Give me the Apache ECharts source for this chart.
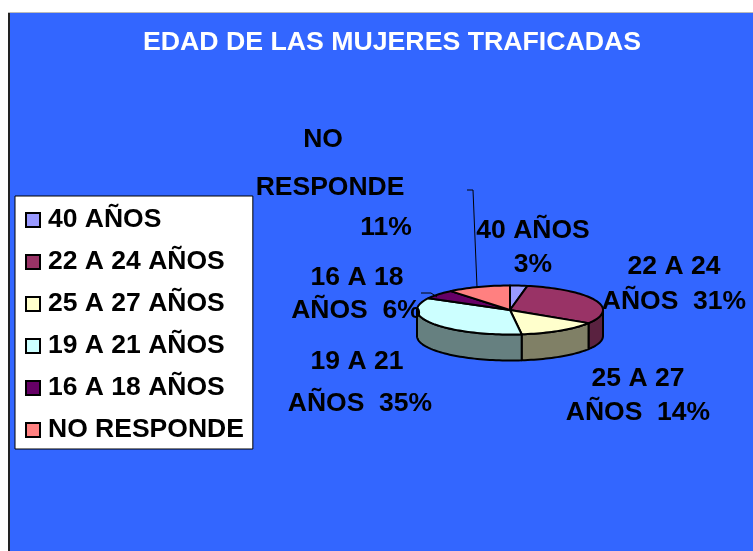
<!DOCTYPE html>
<html>
<head>
<meta charset="utf-8">
<style>html,body{margin:0;padding:0;background:#fff}#c{width:753px;height:551px}</style>
<script src="https://cdn.jsdelivr.net/npm/echarts@6/dist/echarts.min.js"></script>
</head>
<body>
<div id="c"></div>
<script>
var titleText = 'EDAD DE LAS MUJERES TRAFICADAS';
var categories = ['40 AÑOS', '22 A 24 AÑOS', '25 A 27 AÑOS', '19 A 21 AÑOS', '16 A 18 AÑOS', 'NO RESPONDE'];
var shares = [3, 31, 14, 35, 6, 11];
var topColors = ['#9999FF', '#993366', '#FFFFCC', '#CCFFFF', '#660066', '#FF8080'];
var wallColors = ['#4D4D80', '#5A2240', '#808066', '#668080', '#330033', '#804040'];
var labelLines = [
  ['NO', 'RESPONDE', '11%'],
  ['40 AÑOS', '3%'],
  ['22 A 24', 'AÑOS  31%'],
  ['25 A 27', 'AÑOS  14%'],
  ['19 A 21', 'AÑOS  35%'],
  ['16 A 18', 'AÑOS  6%']
];

var FONT = '"Liberation Sans", Arial, sans-serif';
var FS = 26.5;
var CX = 510, CY = 310, RX = 93, RY = 24.5, DEPTH = 26;
var labelPos = [
  [[323, 140], [330, 188], [386, 228]],
  [[533, 231], [533, 265]],
  [[674, 267], [674, 302]],
  [[638, 379], [638, 413]],
  [[357, 362], [360, 404]],
  [[357, 278], [356, 311]]
];

var total = shares.reduce(function (a, b) { return a + b; }, 0);
var starts = [];
shares.reduce(function (acc, v, i) { starts[i] = acc; return acc + v; }, 0);

function pt(deg, dy) {
  var r = deg * Math.PI / 180;
  return [CX + RX * Math.sin(r), CY - RY * Math.cos(r) + (dy || 0)];
}
function arc(a0, a1, dy) {
  var pts = [], n = Math.max(2, Math.ceil((a1 - a0) / 2));
  for (var i = 0; i <= n; i++) pts.push(pt(a0 + (a1 - a0) * i / n, dy));
  return pts;
}
function renderTop(params, api) {
  var a0 = api.value(0) / total * 360, a1 = a0 + api.value(1) / total * 360;
  return {
    type: 'polygon', z2: 10,
    shape: { points: [[CX, CY]].concat(arc(a0, a1, 0)) },
    style: { fill: topColors[params.seriesIndex - 1], stroke: '#000', lineWidth: 2, lineJoin: 'round' }
  };
}
function renderWall(params, api) {
  var a0 = Math.max(90, api.value(0) / total * 360);
  var a1 = Math.min(270, (api.value(0) + api.value(1)) / total * 360);
  if (a1 <= a0) return { type: 'group', children: [] };
  return {
    type: 'polygon',
    shape: { points: arc(a0, a1, 0).concat(arc(a0, a1, DEPTH).reverse()) },
    style: { fill: wallColors[params.dataIndex], stroke: '#000', lineWidth: 2, lineJoin: 'round' }
  };
}

var series = [{
  type: 'custom', name: 'walls', coordinateSystem: 'none', silent: true, z: 2,
  data: categories.map(function (c, i) { return [starts[i], shares[i]]; }),
  renderItem: renderWall
}].concat(categories.map(function (c, i) {
  return {
    type: 'custom', name: c, coordinateSystem: 'none', silent: true, z: 3,
    itemStyle: { color: topColors[i], borderColor: '#000', borderWidth: 2 },
    data: [[starts[i], shares[i]]],
    renderItem: renderTop
  };
}));

var graphic = [
  { type: 'rect', z: -10, shape: { x: 8, y: 12, width: 745, height: 539 }, style: { fill: '#222' } },
  { type: 'rect', z: -10, shape: { x: 8, y: 12, width: 745, height: 1 }, style: { fill: '#bbb' } },
  { type: 'rect', z: -9, shape: { x: 10, y: 13, width: 743, height: 538 }, style: { fill: '#3366FF' } },
  { type: 'polyline', z: 20, shape: { points: [[467, 190], [473, 190], [477, 287]] }, style: { stroke: '#000', lineWidth: 1, fill: null } },
  { type: 'polyline', z: 20, shape: { points: [[421, 293], [431, 293], [437, 297]] }, style: { stroke: '#000', lineWidth: 1, fill: null } }
];
labelLines.forEach(function (lines, i) {
  lines.forEach(function (t, j) {
    graphic.push({
      type: 'text', z: 30, x: labelPos[i][j][0], y: labelPos[i][j][1],
      style: { text: t, fill: '#000', font: 'bold ' + FS + 'px ' + FONT, align: 'center', verticalAlign: 'middle' }
    });
  });
});

var chart = echarts.init(document.getElementById('c'), null, { renderer: 'canvas' });
chart.setOption({
  animation: false,
  backgroundColor: '#fff',
  title: {
    text: titleText, left: 387, top: 38, textAlign: 'center', textVerticalAlign: 'middle',
    textStyle: { color: '#fff', fontFamily: FONT, fontWeight: 'bold', fontSize: 26.7 }
  },
  legend: {
    data: categories, orient: 'vertical', left: 15, top: 196, width: 238, height: 253,
    backgroundColor: '#fff', borderColor: '#000', borderWidth: 1,
    padding: [10, 9, 5, 10], itemGap: 14, itemWidth: 14, itemHeight: 14, icon: 'rect',
    align: 'left', selectedMode: false,
    textStyle: { color: '#000', fontFamily: FONT, fontWeight: 'bold', fontSize: FS, lineHeight: 27, padding: [1, 0, 0, 3] }
  },
  series: series,
  graphic: graphic
});
</script>
</body>
</html>
